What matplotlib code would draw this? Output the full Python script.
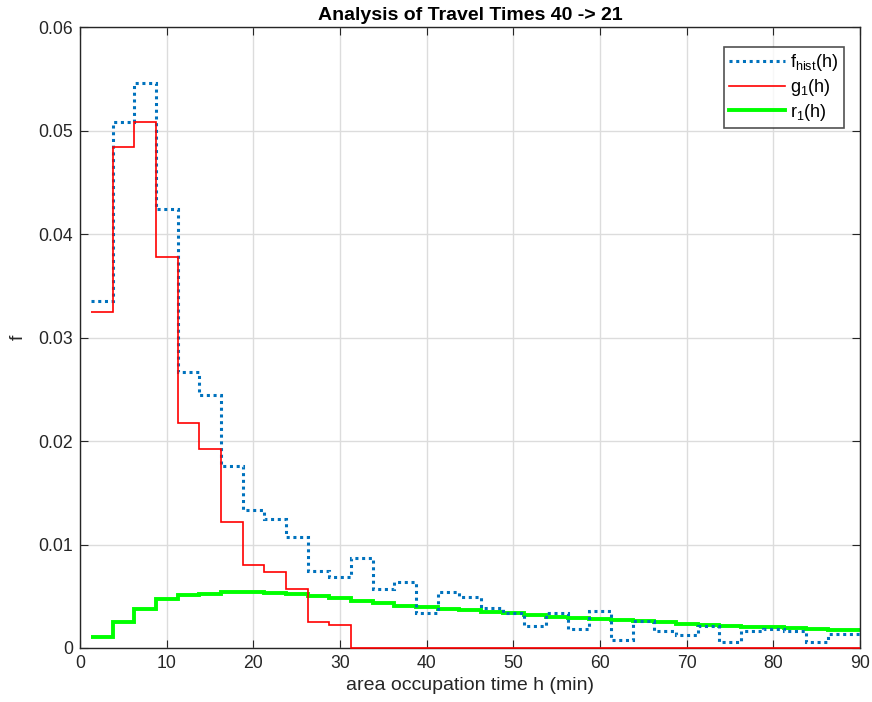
import matplotlib
matplotlib.use("Agg")
import matplotlib.pyplot as plt
import numpy as np

plt.rcParams['font.family'] = ['Liberation Sans', 'DejaVu Sans']
plt.rcParams['mathtext.fontset'] = 'custom'
plt.rcParams['mathtext.rm'] = 'Liberation Sans'

bin_start = 1.25
bin_width = 2.5

f_hist = [0.0335, 0.0508, 0.0546, 0.0424, 0.0267, 0.0244, 0.0176, 0.0133, 0.0125, 0.0107,
          0.0074, 0.0069, 0.0087, 0.0057, 0.0064, 0.0034, 0.0054, 0.0049, 0.0039, 0.0034,
          0.0021, 0.0034, 0.0018, 0.0036, 0.0008, 0.0026, 0.0016, 0.0013, 0.0021, 0.0006,
          0.0016, 0.0018, 0.0016, 0.0006, 0.0014, 0.0014]
g1 = [0.0325, 0.0484, 0.0508, 0.0378, 0.0217, 0.0192, 0.0122, 0.0080, 0.0073, 0.0057,
      0.0025, 0.0022, 0, 0, 0, 0, 0, 0, 0, 0,
      0, 0, 0, 0, 0, 0, 0, 0, 0, 0,
      0, 0, 0, 0, 0, 0]
r1 = [0.0011, 0.0025, 0.0038, 0.0047, 0.0051, 0.0052, 0.0054, 0.0054, 0.0053, 0.0052,
      0.0050, 0.0048, 0.0045, 0.0043, 0.0041, 0.0040, 0.0038, 0.0037, 0.0035, 0.0034,
      0.0032, 0.0030, 0.0029, 0.0028, 0.0027, 0.0026, 0.0025, 0.0023, 0.0022, 0.0021,
      0.0020, 0.0020, 0.0019, 0.0018, 0.0017, 0.0017]

xmin, xmax = 0, 90
n = len(f_hist)
edges = bin_start + bin_width * np.arange(n + 1)
edges_vis = np.clip(edges, xmin, xmax)

fig = plt.figure(figsize=(8.72, 7.02), dpi=100)
ax = fig.add_axes([80/872, 54/702, 780/872, 621/702])

ax.stairs(f_hist, edges, baseline=None, color='#0072BD', linewidth=2.2,
          linestyle=(0, (1, 1.2)), label=r'f$_{\mathrm{hist}}$(h)', zorder=3)
ax.stairs(g1, edges_vis, baseline=None, color='#FF0000', linewidth=1.2,
          label=r'g$_{\mathrm{1}}$(h)', zorder=4, clip_on=False)
ax.stairs(r1, edges, baseline=None, color='#00FF00', linewidth=2.8,
          label=r'r$_{\mathrm{1}}$(h)', zorder=2)

ax.set_xlim(xmin, xmax)
ax.set_ylim(0, 0.06)
ax.set_xticks(np.arange(0, 91, 10))
ax.set_yticks([0, 0.01, 0.02, 0.03, 0.04, 0.05, 0.06])
ax.set_yticklabels(['0', '0.01', '0.02', '0.03', '0.04', '0.05', '0.06'])
ax.grid(True, color='#dcdcdc', linewidth=1.0)
ax.set_axisbelow(True)
ax.tick_params(direction='in', top=True, right=True, labelsize=12.7, length=6,
               color='#262626', labelcolor='#262626', pad=5)
for s in ax.spines.values():
    s.set_color('#262626')
    s.set_linewidth(1.0)

ax.set_title('Analysis of Travel Times 40 -> 21', fontsize=14, fontweight='bold', pad=5)
ax.set_xlabel('area occupation time h (min)', fontsize=14, color='#262626', labelpad=4)
ax.set_ylabel('f', fontsize=14, color='#262626', labelpad=8)

leg = ax.legend(loc='upper right', bbox_to_anchor=(1 - 16/780, 1 - 20/621), fontsize=13,
                frameon=True, fancybox=False, edgecolor='#262626', handlelength=3.1,
                borderpad=0.3, labelspacing=0.2, handletextpad=0.3, borderaxespad=0)
leg.get_frame().set_linewidth(1.2)

fig.savefig('out.png', dpi=100)
